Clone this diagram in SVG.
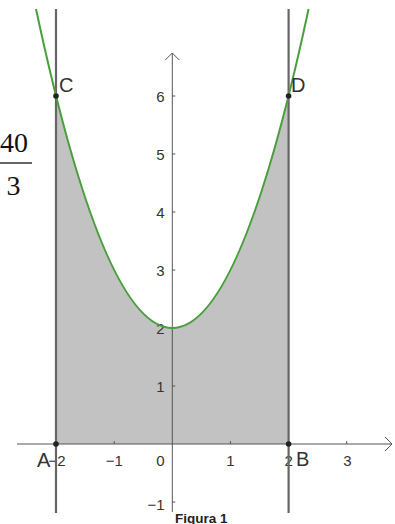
<svg xmlns="http://www.w3.org/2000/svg" width="395" height="524" viewBox="0 0 395 524">
<style>
.axis{stroke:#555;stroke-width:1;fill:none}
.tick{stroke:#555;stroke-width:1}
.num{font-family:"Liberation Sans",Arial,sans-serif;font-size:15px;fill:#333}
.pt{font-family:"Liberation Sans",Arial,sans-serif;font-size:20px;fill:#333}
.vline{stroke:#666;stroke-width:2.2}
</style>
<rect width="395" height="524" fill="#fff"/>
<g id="region">
<path d="M56,444 L56,96 Q172.3,560 288.6,96 L288.6,444 Z" fill="#c2c2c2"/>
</g>
<g id="axes">
<line class="axis" x1="17" y1="444" x2="392" y2="444"/>
<path class="axis" d="M385,437 L392,444 L385,451"/>
<line class="axis" x1="172.3" y1="53" x2="172.3" y2="512"/>
<path class="axis" d="M165.3,60 L172.3,53 L179.3,60"/>
<g class="tick">
<line x1="114.2" y1="441" x2="114.2" y2="444"/>
<line x1="230.4" y1="441" x2="230.4" y2="444"/>
<line x1="346.7" y1="441" x2="346.7" y2="444"/>
<line x1="172.3" y1="96" x2="175.3" y2="96"/>
<line x1="172.3" y1="154" x2="175.3" y2="154"/>
<line x1="172.3" y1="212" x2="175.3" y2="212"/>
<line x1="172.3" y1="270" x2="175.3" y2="270"/>
<line x1="172.3" y1="328" x2="175.3" y2="328"/>
<line x1="172.3" y1="386" x2="175.3" y2="386"/>
<line x1="172.3" y1="502" x2="175.3" y2="502"/>
</g>
<g class="num">
<text x="57" y="466" text-anchor="middle">−2</text>
<text x="114.2" y="466" text-anchor="middle">−1</text>
<text x="160.5" y="466" text-anchor="middle">0</text>
<text x="230.4" y="466" text-anchor="middle">1</text>
<text x="288.6" y="466" text-anchor="middle">2</text>
<text x="347.5" y="466" text-anchor="middle">3</text>
<text x="164.5" y="102" text-anchor="end">6</text>
<text x="164.5" y="160" text-anchor="end">5</text>
<text x="164.5" y="218" text-anchor="end">4</text>
<text x="164.5" y="276" text-anchor="end">3</text>
<text x="164.5" y="334" text-anchor="end">2</text>
<text x="164.5" y="392" text-anchor="end">1</text>
<text x="164.5" y="510" text-anchor="end">−1</text>
</g>
</g>
<g id="lines">
<line class="vline" x1="56" y1="9" x2="56" y2="513"/>
<line class="vline" x1="288.6" y1="9" x2="288.6" y2="513"/>
</g>
<g id="curve">
<path d="M36,9 Q172.3,647 308.6,9" fill="none" stroke="#4a9e3e" stroke-width="2"/>
</g>
<g id="points" fill="#222">
<circle cx="56" cy="96" r="2.8"/>
<circle cx="288.6" cy="96" r="2.8"/>
<circle cx="56" cy="444" r="2.8"/>
<circle cx="288.6" cy="444" r="2.8"/>
</g>
<g id="labels" class="pt">
<text x="59" y="92">C</text>
<text x="291" y="92">D</text>
<text x="37" y="467">A</text>
<text x="296" y="466">B</text>
</g>
<g id="fraction" font-family="'Liberation Serif','Times New Roman',serif" font-size="28" fill="#111">
<text x="14" y="152" text-anchor="middle">40</text>
<line x1="0" y1="163" x2="32" y2="163" stroke="#111" stroke-width="1.3"/>
<text x="13.5" y="195" text-anchor="middle">3</text>
</g>
<text x="175" y="523" font-family="'Liberation Sans',Arial,sans-serif" font-weight="bold" font-size="13.5" fill="#222">Figura 1</text>
</svg>
